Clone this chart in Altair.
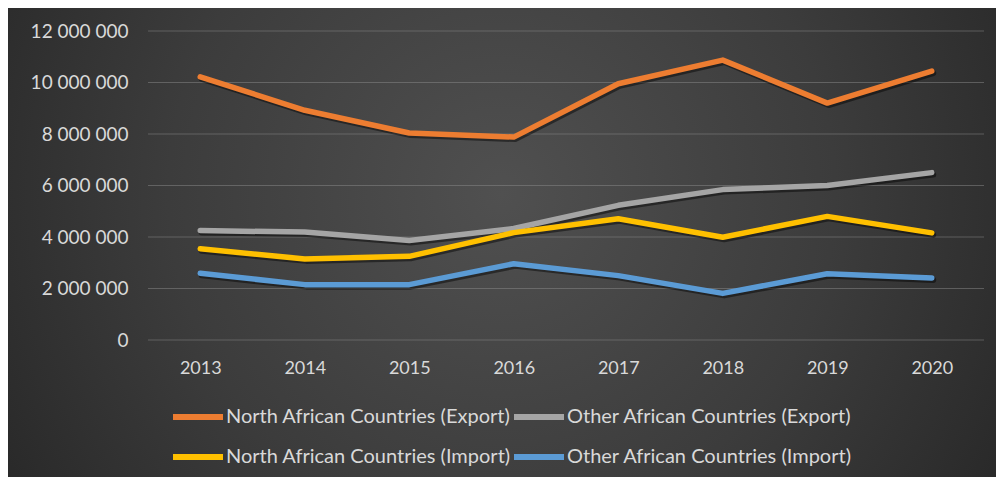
import altair as alt
import pandas as pd

years = ["2013", "2014", "2015", "2016", "2017", "2018", "2019", "2020"]
series_names = [
    "North African Countries (Export)",
    "Other African Countries (Export)",
    "North African Countries (Import)",
    "Other African Countries (Import)",
]
north_export = [10220000, 8920000, 8040000, 7880000, 9950000, 10870000, 9200000, 10440000]
other_export = [4250000, 4190000, 3860000, 4330000, 5230000, 5840000, 6000000, 6500000]
north_import = [3540000, 3150000, 3250000, 4170000, 4710000, 3990000, 4800000, 4160000]
other_import = [2590000, 2150000, 2150000, 2960000, 2500000, 1810000, 2570000, 2410000]
series_colors = ["#ED7D31", "#A5A5A5", "#FFC000", "#5B9BD5"]
y_ticks = [0, 2000000, 4000000, 6000000, 8000000, 10000000, 12000000]

rows = []
for name, vals in zip(series_names, [north_export, other_export, north_import, other_import]):
    for y, v in zip(years, vals):
        rows.append({"year": y, "series": name, "value": v})
df = pd.DataFrame(rows)
grid_df = pd.DataFrame({"value": y_ticks})

FONT = "Lato"
W, H = 836, 309
PAD = {"left": 140, "top": 23, "right": 12, "bottom": 137}
TXT = "#d9d9d9"

x_enc = alt.X("year:O", scale=alt.Scale(type="point", padding=0.5), title=None,
              axis=alt.Axis(labelAngle=0, labelPadding=19, ticks=False, domain=False,
                            grid=False, labelFontSize=18, labelColor=TXT, labelFont=FONT,
                            zindex=1))
y_enc = alt.Y("value:Q", scale=alt.Scale(domain=[0, 12000000], nice=False), title=None,
              axis=alt.Axis(values=y_ticks,
                            labelExpr="replace(replace(format(datum.value, ','), ',', ' '), ',', ' ')",
                            ticks=False, domain=False, labelPadding=20, labelFontSize=19,
                            labelColor=TXT, labelFont=FONT, grid=False, zindex=1))

bg = alt.Chart(alt.Data(values=[{"a": 1}])).mark_rect(
    fill=alt.RadialGradient(
        gradient="radial", x1=0.5, y1=0.45, r1=0, x2=0.5, y2=0.45, r2=0.75,
        stops=[alt.GradientStop(color="#505050", offset=0),
               alt.GradientStop(color="#3c3c3c", offset=0.45),
               alt.GradientStop(color="#1c1c1c", offset=1)]),
).encode(
    x=alt.value(-PAD["left"]), x2=alt.value(W + PAD["right"]),
    y=alt.value(-PAD["top"]), y2=alt.value(H + PAD["bottom"]),
)

grid = alt.Chart(grid_df).mark_rule(color="#8a8a8a", opacity=0.5, strokeWidth=1).encode(y=y_enc)

shadow = alt.Chart(df).mark_line(
    strokeWidth=6, strokeCap="round", strokeJoin="round", color="#000000",
    opacity=0.45, xOffset=1.5, yOffset=2,
).encode(x=x_enc, y=y_enc, detail="series:N")

lines = alt.Chart(df).mark_line(
    strokeWidth=5.5, strokeCap="round", strokeJoin="round",
).encode(
    x=x_enc, y=y_enc,
    color=alt.Color("series:N", scale=alt.Scale(domain=series_names, range=series_colors),
                    legend=alt.Legend(
                        title=None, orient="none", direction="horizontal",
                        legendX=22, legendY=358, columns=2,
                        symbolType="stroke", symbolSize=2500, symbolStrokeWidth=6,
                        labelFontSize=20, labelColor=TXT, labelFont=FONT,
                        labelOffset=0, columnPadding=-11, rowPadding=-2, labelLimit=400)),
)

chart = alt.layer(bg, grid, shadow, lines).properties(
    width=W, height=H,
    autosize=alt.AutoSizeParams(type="none"),
    padding=PAD,
).configure(background="#2b2b2b").configure_view(stroke=None)

chart.save("out.html", embed_options={"renderer": "svg", "actions": False})
